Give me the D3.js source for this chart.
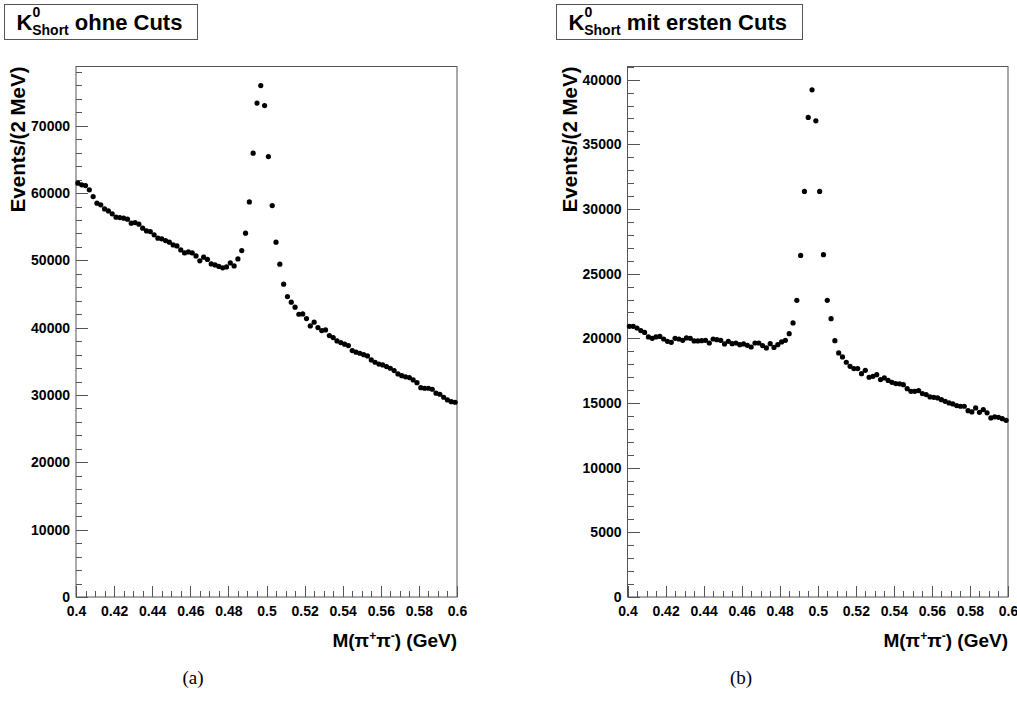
<!DOCTYPE html>
<html>
<head>
<meta charset="utf-8">
<script src="https://cdn.jsdelivr.net/npm/d3@7/dist/d3.min.js"></script>
<style>
  body { margin: 0; background: #fff; }
  svg { display: block; }
  .tick text { font-family: "Liberation Sans", Arial, sans-serif; font-weight: bold; font-size: 14px; fill: #000; }
  .axis path.domain { display: none; }
  .axis line { stroke: #555; stroke-width: 1; }
  .axis-label { font-family: "Liberation Sans", Arial, sans-serif; font-weight: bold; font-size: 19px; }
  .title { font-family: "Liberation Sans", Arial, sans-serif; font-weight: bold; font-size: 22px; }
  .caption { font-family: "Liberation Serif", "DejaVu Serif", serif; font-size: 19px; }
</style>
</head>
<body>
<div id="vis"></div>
<script>
// bin centres, 2 MeV bins from 0.4 to 0.6 GeV
var binCenters = d3.range(100).map(function(i) { return 0.401 + 0.002 * i; });

// panel (a): ohne Cuts
var countsA = [
  61470, 61220, 61110, 60480, 59480, 58500, 58250, 57650, 57350, 56910,
  56420, 56360, 56270, 56120, 55530, 55620, 55380, 54790, 54380, 54280,
  53790, 53300, 53200, 52940, 52700, 52300, 52150, 51560, 51110, 51260,
  51110, 50670, 49930, 50480, 50150, 49480, 49330, 49110, 48890, 49030,
  49630, 49180, 50220, 51460, 54040, 58690, 65930, 73360, 75970, 73000,
  65420, 58140, 52700, 49440, 46460, 44620, 43790, 43050, 42000, 42050,
  41350, 40270, 40820, 40020, 39570, 39670, 38830, 38530, 38040, 37790,
  37550, 37340, 36600, 36360, 36210, 36000, 35810, 35220, 34870, 34600,
  34470, 34220, 33980, 33630, 33140, 32880, 32700, 32590, 32240, 31840,
  31100, 31010, 31010, 30860, 30270, 30120, 29670, 29270, 29020, 28930
];

// panel (b): mit ersten Cuts
var countsB = [
  20930, 20930, 20800, 20600, 20460, 20110, 20000, 20110, 20150, 19950,
  19770, 19690, 20000, 19950, 19850, 20030, 20000, 19800, 19800, 19820,
  19850, 19640, 19950, 19900, 19850, 19570, 19770, 19590, 19640, 19510,
  19570, 19460, 19330, 19640, 19640, 19440, 19260, 19590, 19300, 19510,
  19720, 19850, 20360, 21190, 22940, 26410, 31360, 37080, 39220, 36820,
  31360, 26470, 22940, 21520, 19820, 18870, 18560, 18150, 17840, 17660,
  17660, 17270, 17530, 16990, 17060, 17190, 16810, 16940, 16750, 16600,
  16500, 16480, 16420, 16110, 15900, 15900, 15960, 15730, 15650, 15470,
  15440, 15390, 15260, 15130, 15010, 14930, 14800, 14750, 14750, 14410,
  14310, 14620, 14280, 14490, 14240, 13850, 13930, 13890, 13790, 13660
];

var xTicks = [0.4, 0.42, 0.44, 0.46, 0.48, 0.5, 0.52, 0.54, 0.56, 0.58, 0.6];
var yTicksA = [0, 10000, 20000, 30000, 40000, 50000, 60000, 70000];
var yTicksB = [0, 5000, 10000, 15000, 20000, 25000, 30000, 35000, 40000];

var width = 1017;
var height = 706;

var svg = d3.select('#vis')
            .append('svg')
            .attr('width', width)
            .attr('height', height);

var drawPanel = function(p) {
    var xScale = d3.scaleLinear().domain([0.4, 0.6]).range([p.left, p.right]);
    var yScale = d3.scaleLinear().domain([0, p.yMax]).range([p.bottom, p.top]);

    // frame
    svg.append('rect')
       .attr('x', p.left).attr('y', p.top)
       .attr('width', p.right - p.left).attr('height', p.bottom - p.top)
       .attr('fill', 'none').attr('stroke', '#555').attr('stroke-width', 1);

    // x minor ticks
    svg.append('g').attr('class', 'axis')
       .attr('transform', 'translate(0,' + p.bottom + ')')
       .call(d3.axisBottom(xScale).tickValues(d3.range(0.405, 0.6, 0.005)).tickSize(-6).tickFormat(''));
    // x major ticks
    svg.append('g').attr('class', 'axis')
       .attr('transform', 'translate(0,' + p.bottom + ')')
       .call(d3.axisBottom(xScale).tickValues(xTicks).tickSize(-11).tickPadding(9)
             .tickFormat(function(d) { return String(+d.toFixed(2)); }));

    // y minor ticks
    svg.append('g').attr('class', 'axis')
       .attr('transform', 'translate(' + p.left + ',0)')
       .call(d3.axisLeft(yScale).tickValues(d3.range(0, p.yMax, p.yMinor)).tickSize(-6).tickFormat(''));
    // y major ticks
    svg.append('g').attr('class', 'axis')
       .attr('transform', 'translate(' + p.left + ',0)')
       .call(d3.axisLeft(yScale).tickValues(p.yTicks).tickSize(-12).tickPadding(6).tickFormat(d3.format('d')));

    svg.selectAll('.axis line').attr('shape-rendering', 'crispEdges');

    // points
    svg.append('g').selectAll('circle')
       .data(p.counts)
       .enter().append('circle')
       .attr('cx', function(d, i) { return xScale(binCenters[i]); })
       .attr('cy', function(d) { return yScale(d); })
       .attr('r', 2.6)
       .attr('fill', '#000');

    // axis titles
    var xt = svg.append('text').attr('class', 'axis-label')
       .attr('x', p.right).attr('y', 647).attr('text-anchor', 'end');
    xt.append('tspan').text('M(\u03c0');
    xt.append('tspan').attr('font-size', '12px').attr('dy', -7).text('+');
    xt.append('tspan').attr('dy', 7).text('\u03c0');
    xt.append('tspan').attr('font-size', '12px').attr('dy', -7).text('-');
    xt.append('tspan').attr('dy', 7).text(') (GeV)');

    svg.append('text').attr('class', 'axis-label')
       .style('font-size', '20.5px')
       .attr('transform', 'translate(' + (p.left - 51) + ',' + p.top + ') rotate(-90)')
       .attr('text-anchor', 'end')
       .text('Events/(2 MeV)');

    // title box
    svg.append('rect')
       .attr('x', p.boxLeft).attr('y', 4.5)
       .attr('width', p.boxWidth).attr('height', 35)
       .attr('fill', '#fff').attr('stroke', '#555').attr('stroke-width', 1);
    var t = svg.append('text').attr('class', 'title')
       .attr('x', p.boxLeft + 12).attr('y', 30);
    t.append('tspan').text('K');
    t.append('tspan').attr('font-size', '14px').attr('dy', -13).text('0');
    t.append('tspan').attr('font-size', '14px').attr('dx', -8).attr('dy', 18).text('Short');
    t.append('tspan').attr('dy', -5).text(' ' + p.title);

    // caption
    svg.append('text').attr('class', 'caption')
       .attr('x', p.captionX).attr('y', 684).attr('text-anchor', 'middle')
       .text(p.caption);
};

drawPanel({
    counts: countsA, yMax: 78800, yTicks: yTicksA, yMinor: 2000,
    left: 76, right: 457, top: 66.5, bottom: 597,
    boxLeft: 4.5, boxWidth: 193, title: 'ohne Cuts',
    captionX: 193, caption: '(a)'
});

drawPanel({
    counts: countsB, yMax: 41020, yTicks: yTicksB, yMinor: 1000,
    left: 627.5, right: 1008, top: 66.5, bottom: 597,
    boxLeft: 556.5, boxWidth: 246, title: 'mit ersten Cuts',
    captionX: 741, caption: '(b)'
});
</script>
</body>
</html>
